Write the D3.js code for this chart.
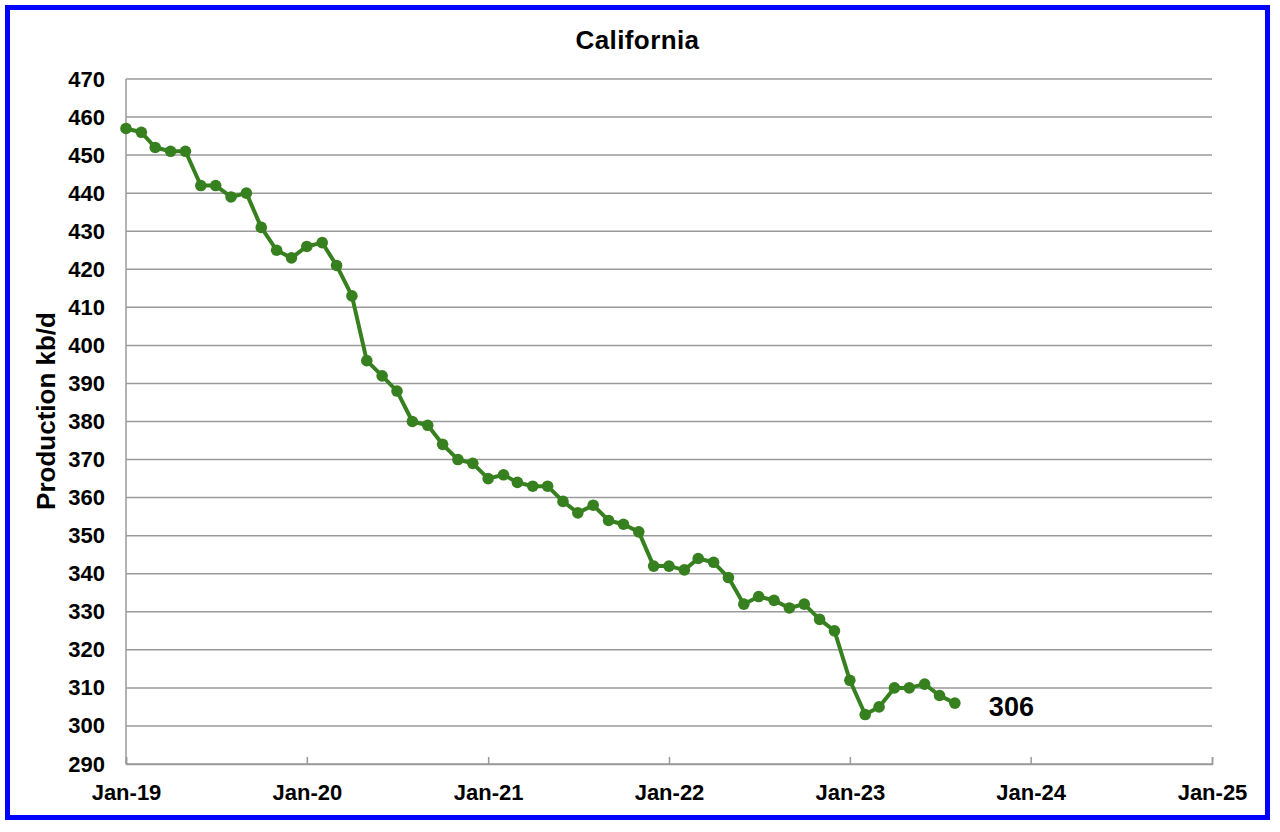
<!DOCTYPE html>
<html><head><meta charset="utf-8">
<script src="https://cdn.jsdelivr.net/npm/d3@7"></script>
<style>body{margin:0;background:#fff;} svg{display:block;font-family:"Liberation Sans",Arial,sans-serif;}</style>
</head><body>
<svg id="c" width="1280" height="832"></svg>
<script>
const startMonth = "2019-01";
const production = [457,456,452,451,451,442,442,439,440,431,425,423,
426,427,421,413,396,392,388,380,379,374,370,369,
365,366,364,363,363,359,356,358,354,353,351,342,
342,341,344,343,339,332,334,333,331,332,328,325,
312,303,305,310,310,311,308,306];
const yTicks = d3.range(290, 471, 10);
const xTickLabels = ["Jan-19","Jan-20","Jan-21","Jan-22","Jan-23","Jan-24","Jan-25"];
const title = "California";
const yLabel = "Production kb/d";
const lastLabel = "306";

const dates = production.map((d,i)=>new Date(2019, i, 1));
const data = production.map((v,i)=>({date:dates[i], value:v}));
const svg = d3.select("#c");
const L=126, R=1212, T=79, B=764;
const x = d3.scaleTime().domain([new Date(2019,0,1), new Date(2025,0,1)]).range([L,R]);
const y = d3.scaleLinear().domain([290,470]).range([B,T]);

svg.append("rect").attr("x",7.5).attr("y",7.5).attr("width",1260).attr("height",810)
  .attr("fill","#fff").attr("stroke","#0000ff").attr("stroke-width",5);

// gridlines
svg.append("g").selectAll("line").data(yTicks).join("line")
  .attr("x1",L).attr("x2",R).attr("y1",d=>y(d)).attr("y2",d=>y(d))
  .attr("stroke","#9a9a9a").attr("stroke-width",1.5);
// left axis line
svg.append("line").attr("x1",L).attr("x2",L).attr("y1",T).attr("y2",B).attr("stroke","#9a9a9a").attr("stroke-width",1.5);

const xTickDates = xTickLabels.map((s,i)=>new Date(2019+i,0,1));
const xAxis = d3.axisBottom(x).tickValues(xTickDates).tickSize(-7).tickFormat((d,i)=>xTickLabels[i]).tickPadding(20);
const gx = svg.append("g").attr("transform",`translate(0,${B})`).call(xAxis);
gx.select(".domain").attr("stroke","#9a9a9a").attr("stroke-width",1.5);
gx.selectAll(".tick line").attr("stroke","#9a9a9a").attr("stroke-width",1.5);
gx.selectAll("text").attr("font-size",22).attr("font-weight","bold").attr("fill","#000").attr("font-family","Liberation Sans, Arial, sans-serif");

const yAxis = d3.axisLeft(y).tickValues(yTicks).tickSize(0).tickPadding(21);
const gy = svg.append("g").attr("transform",`translate(${L},0)`).call(yAxis);
gy.select(".domain").remove();
gy.selectAll("text").attr("font-size",22).attr("font-weight","bold").attr("fill","#000").attr("font-family","Liberation Sans, Arial, sans-serif");

const line = d3.line().x(d=>x(d.date)).y(d=>y(d.value));
svg.append("path").datum(data).attr("d",line).attr("fill","none").attr("stroke","#37801f").attr("stroke-width",4).attr("stroke-linejoin","round");
svg.append("g").selectAll("circle").data(data).join("circle")
  .attr("cx",d=>x(d.date)).attr("cy",d=>y(d.value)).attr("r",5.8).attr("fill","#37801f");

svg.append("text").attr("x",637.5).attr("y",49).attr("text-anchor","middle").attr("font-size",26).attr("font-weight","bold").attr("letter-spacing",0.4).text(title);
svg.append("text").attr("transform",`translate(55,411) rotate(-90)`).attr("text-anchor","middle").attr("font-size",26).attr("font-weight","bold").text(yLabel);
const last = data[data.length-1];
svg.append("text").attr("x",x(last.date)+34).attr("y",y(last.value)+13).attr("font-size",27).attr("font-weight","bold").text(lastLabel);
</script>
</body></html>
